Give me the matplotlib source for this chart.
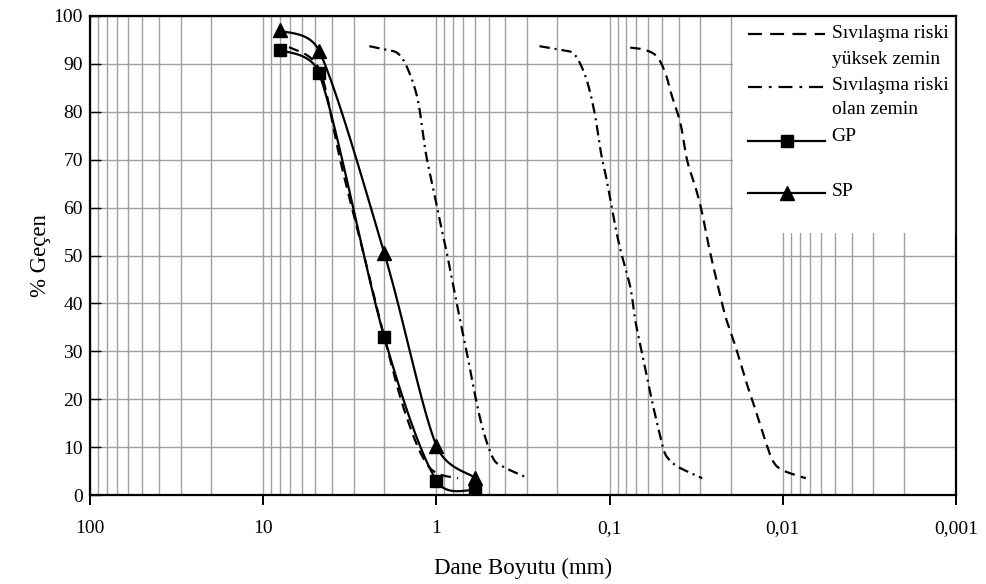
import numpy as np
import matplotlib
matplotlib.use("Agg")
import matplotlib.pyplot as plt
from matplotlib.patches import Rectangle
from matplotlib.lines import Line2D
from matplotlib.ticker import LogLocator, NullFormatter

plt.rcParams['font.family'] = ['Liberation Serif', 'DejaVu Serif']
plt.rcParams['lines.scale_dashes'] = False

# sieve size (mm) and % passing
gp_d = [8.0, 4.75, 2.0, 1.0, 0.6]
gp_p = [93.0, 88.0, 33.0, 3.0, 1.0]
sp_d = [8.0, 4.75, 2.0, 1.0, 0.6]
sp_p = [97.0, 92.7, 50.5, 10.3, 3.6]

# boundary curves "Sıvılaşma riski yüksek zemin" (dashed)
yuksek1_d = [7.1, 5.3, 4.5, 3.56, 2.66, 2.0, 1.5, 1.1, 0.75]
yuksek1_p = [93.5, 91.2, 86.6, 69.3, 51.1, 33.0, 16.7, 5.8, 3.5]
yuksek2_d = [0.076, 0.0622, 0.0532, 0.0476, 0.0436, 0.039, 0.0357, 0.032, 0.0292,
             0.0267, 0.0239, 0.0214, 0.01875, 0.0164, 0.01436, 0.01285, 0.01148,
             0.01005, 0.00736]
yuksek2_p = [93.4, 92.9, 91.5, 88.0, 83.2, 77.6, 69.9, 64.4, 58.8,
             51.8, 44.2, 37.2, 31.0, 24.0, 17.7, 12.2, 7.3, 5.2, 3.5]

# boundary curves "Sıvılaşma riski olan zemin" (dash-dot)
olan1_d = [2.44, 1.91, 1.67, 1.50, 1.34, 1.25, 1.15, 1.03, 0.94, 0.877,
           0.75, 0.672, 0.601, 0.538, 0.471, 0.412, 0.295]
olan1_p = [93.7, 92.9, 92.2, 89.8, 85.2, 80.4, 71.3, 63.0, 56.0, 51.1,
           38.6, 30.3, 21.2, 13.6, 7.7, 5.9, 3.5]
olan2_d = [0.254, 0.189, 0.162, 0.145, 0.132, 0.121, 0.112, 0.104, 0.095, 0.087,
           0.076, 0.0711, 0.065, 0.0582, 0.0532, 0.0487, 0.0456, 0.0399, 0.0292]
olan2_p = [93.7, 92.9, 92.2, 89.4, 85.2, 79.0, 71.3, 65.8, 58.1, 51.5,
           43.5, 36.5, 29.6, 21.2, 15.0, 9.4, 7.5, 5.8, 3.5]

x_ticks = [100, 10, 1, 0.1, 0.01, 0.001]
x_labels = ['100', '10', '1', '0,1', '0,01', '0,001']
y_ticks = list(range(0, 101, 10))

# rough screen scale, only used so the smoothing behaves like excel's
SX, SY = 172.6, 4.79


def smooth(d, p, n=30):
    # smoothed line: catmull-rom bezier arms, capped at half the segment length
    x = -np.log10(np.asarray(d, float)) * SX
    y = np.asarray(p, float) * SY
    pts = np.column_stack([x, y])
    pts = np.vstack([pts[:1], pts, pts[-1:]])
    t = np.linspace(0, 1, n)[:, None]
    out = []
    for i in range(1, len(pts) - 2):
        p0, p1, p2, p3 = pts[i - 1], pts[i], pts[i + 1], pts[i + 2]
        seg = np.hypot(*(p2 - p1))
        a1 = (p2 - p0) / 6
        a2 = (p3 - p1) / 6
        for a in (a1, a2):
            ln = np.hypot(*a)
            if ln > 0.5 * seg:
                a *= 0.5 * seg / ln
        c1 = p1 + a1
        c2 = p2 - a2
        b = ((1 - t) ** 3) * p1 + 3 * ((1 - t) ** 2) * t * c1 + 3 * (1 - t) * t ** 2 * c2 + t ** 3 * p2
        out.append(b)
    b = np.vstack(out)
    return 10 ** (-b[:, 0] / SX), b[:, 1] / SY


fig = plt.figure(figsize=(9.87, 5.84), dpi=100)
ax = fig.add_axes([90 / 987, 89 / 584, 866 / 987, 479 / 584])

dash = (0, (7.5, 4.5))
dashdot = (0, (7.5, 3.5, 1.5, 3.5))
lw = 1.6

for d, p in [(yuksek1_d, yuksek1_p), (yuksek2_d, yuksek2_p)]:
    ax.plot(*smooth(d, p), color='black', lw=lw, linestyle=dash)
for d, p in [(olan1_d, olan1_p), (olan2_d, olan2_p)]:
    ax.plot(*smooth(d, p), color='black', lw=lw, linestyle=dashdot)

ax.plot(*smooth(gp_d, gp_p), color='black', lw=lw)
ax.plot(gp_d, gp_p, linestyle='none', marker='s', ms=8, color='black')
ax.plot(*smooth(sp_d, sp_p), color='black', lw=lw)
ax.plot(sp_d, sp_p, linestyle='none', marker='^', ms=9.5, color='black')

ax.set_xscale('log')
ax.set_xlim(100, 0.001)
ax.set_ylim(0, 100)
ax.set_xticks(x_ticks)
ax.set_xticklabels(x_labels)
ax.xaxis.set_minor_locator(LogLocator(base=10, subs=range(2, 10)))
ax.xaxis.set_minor_formatter(NullFormatter())
ax.set_yticks(y_ticks)

ax.grid(True, which='both', axis='x', color='#a0a0a0', lw=1)
ax.grid(True, which='major', axis='y', color='#a0a0a0', lw=1)
ax.tick_params(axis='x', which='major', direction='out', length=7, width=1.4,
               labelsize=14, pad=11)
ax.tick_params(axis='x', which='minor', length=0)
ax.tick_params(axis='y', direction='in', length=8, width=1, labelsize=14, pad=5)
for s in ax.spines.values():
    s.set_linewidth(1.6)

ax.set_xlabel('Dane Boyutu (mm)', fontsize=16.5, labelpad=15)
ax.set_ylabel('% Geçen', fontsize=16.5, labelpad=2)

# legend box
lx0, ly0 = 0.7425, 0.547
ax.add_patch(Rectangle((lx0, ly0), 1 - lx0, 1 - ly0, transform=ax.transAxes,
                       facecolor='white', edgecolor='none', zorder=2.2))
ax.add_line(Line2D([1, 1], [ly0, 1], transform=ax.transAxes, color='#a0a0a0',
                   lw=1, zorder=3))

hx = [0.7602, 0.8487]
mx = 0.8044
tx = 0.8565
fs = 14
ax.add_line(Line2D(hx, [0.9618] * 2, transform=ax.transAxes, color='black', lw=lw,
                   linestyle=(0, (10, 6)), zorder=4))
ax.text(tx, 0.9639, 'Sıvılaşma riski', transform=ax.transAxes, va='center', fontsize=fs, zorder=4)
ax.text(tx, 0.9096, 'yüksek zemin', transform=ax.transAxes, va='center', fontsize=fs, zorder=4)
ax.add_line(Line2D(hx, [0.8511] * 2, transform=ax.transAxes, color='black', lw=lw,
                   linestyle=(0, (10, 5, 2, 5)), zorder=4))
ax.text(tx, 0.8559, 'Sıvılaşma riski', transform=ax.transAxes, va='center', fontsize=fs, zorder=4)
ax.text(tx, 0.8038, 'olan zemin', transform=ax.transAxes, va='center', fontsize=fs, zorder=4)
ax.add_line(Line2D(hx, [0.7397] * 2, transform=ax.transAxes, color='black', lw=lw, zorder=4))
ax.add_line(Line2D([mx], [0.7397], transform=ax.transAxes, color='black', marker='s',
                   ms=8, zorder=4))
ax.text(tx, 0.7474, 'GP', transform=ax.transAxes, va='center', fontsize=fs, zorder=4)
ax.add_line(Line2D(hx, [0.6311] * 2, transform=ax.transAxes, color='black', lw=lw, zorder=4))
ax.add_line(Line2D([mx], [0.6311], transform=ax.transAxes, color='black', marker='^',
                   ms=9.5, zorder=4))
ax.text(tx, 0.6332, 'SP', transform=ax.transAxes, va='center', fontsize=fs, zorder=4)

fig.savefig('out.png', dpi=100)
